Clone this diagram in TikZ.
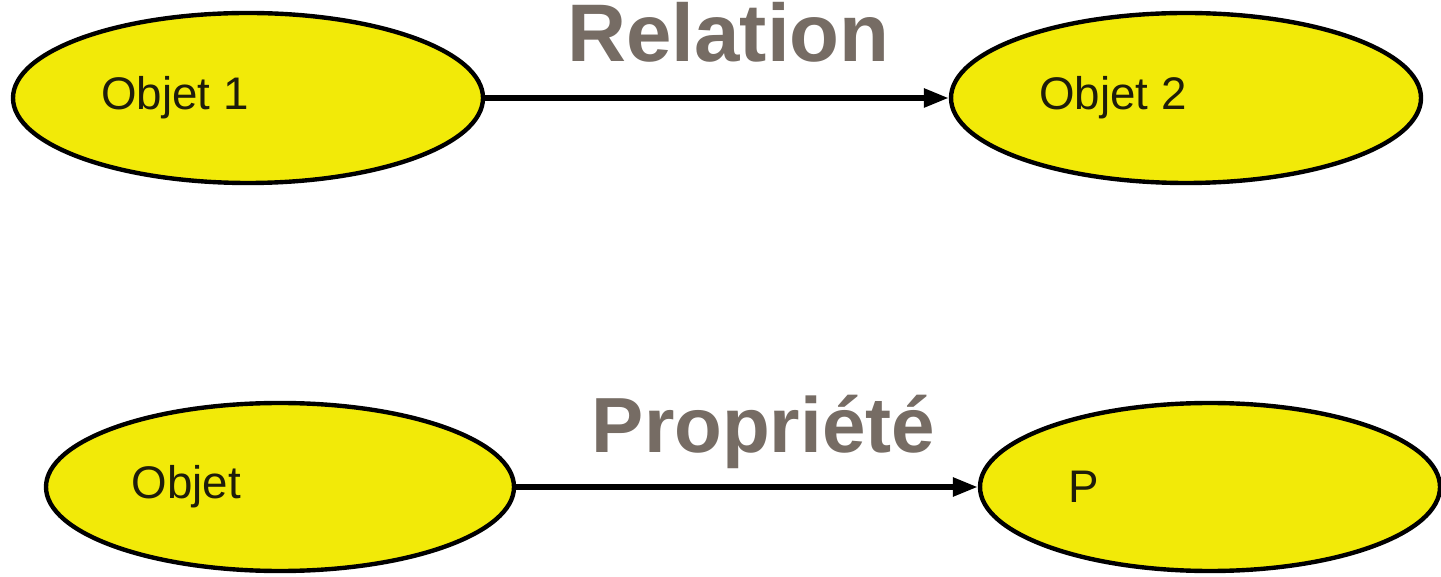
\documentclass[tikz,border=0pt]{standalone}
\usepackage{fontspec}
\setmainfont{Liberation Sans}
\usepackage{tikz}
\usetikzlibrary{shapes.geometric}
\usetikzlibrary{arrows.meta}
\usetikzlibrary{positioning}
\definecolor{jaune}{RGB}{242,234,8}
\definecolor{titregris}{RGB}{118,108,100}
\definecolor{encre}{RGB}{30,28,10}

\begin{document}
\begin{tikzpicture}
  \tikzset{myedge/.style={-{Triangle[length=5mm,width=3.6mm]}, line width=3.2pt, black}};
  \tikzset{mynode/.style={ellipse, draw=black, line width=2.5pt, fill=jaune, minimum width=9.4cm, minimum height=3.4cm}};
  \tikzset{mytext/.style={inner sep=0pt, text=encre, font=\fontsize{26}{28}\selectfont}};
  \tikzset{mytitle/.style={anchor=base, text=titregris, font=\fontsize{#1}{#1}\selectfont\bfseries}};
  \useasboundingbox (0,0) rectangle (28.82,11.52);

  % relation
  \node[mynode] (o1) at (4.96,9.56) {};
  \node[mynode] (o2) at (23.72,9.56) {};
  \node[mytext,right=1.8cm] (t1) at (o1.west) {Objet 1};
  \node[mytext,right=1.8cm] (t2) at (o2.west) {Objet 2};
  \node[mytitle=46.5pt] (rel) at (14.57,10.28) {Relation};
  \draw [myedge] (o1) -- (o2);

  % propriete
  \node[mynode,minimum width=9.36cm,minimum height=3.36cm] (o) at (5.6,1.78) {};
  \node[mynode,minimum width=9.2cm,minimum height=3.36cm] (p) at (24.2,1.78) {};
  \node[mytext,right=1.75cm] (t3) at (o.west) {Objet};
  \node[mytext,right=1.8cm] (t4) at (p.west) {P};
  \node[mytitle=44.5pt] (prop) at (15.27,2.46) {Propriété};
  \draw [myedge] (o) -- (p);

\end{tikzpicture}
\end{document}
